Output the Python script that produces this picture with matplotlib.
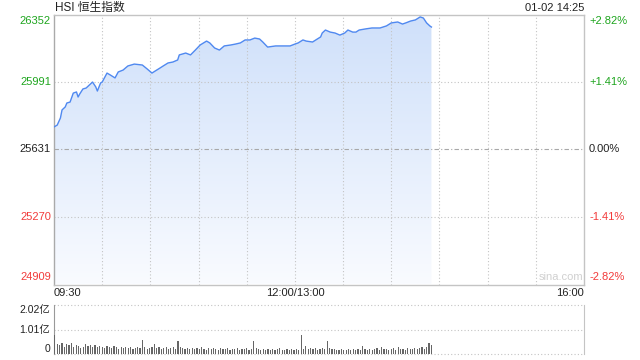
import numpy as np
import matplotlib
matplotlib.use("Agg")
import matplotlib.pyplot as plt
from matplotlib.colors import LinearSegmentedColormap

plt.rcParams['font.family'] = ['Liberation Sans', 'Noto Sans CJK SC', 'DejaVu Sans']

# price trace, minutes from 09:30 with the lunch break removed
minutes = [0, 2, 4, 5, 7, 8, 10, 12, 14, 15, 16, 18, 20, 24, 26, 27, 29, 30, 33, 35,
           38, 40, 43, 46, 50, 55, 58, 61, 63, 66, 68, 71, 74, 77, 78, 82, 85, 88, 91, 95,
           97, 100, 103, 106, 110, 113, 116, 119, 122, 125, 128, 130, 133, 138, 142, 147, 150, 152, 155, 157,
           161, 163, 166, 167, 169, 172, 175, 178, 181, 183, 186, 188, 190, 194, 198, 203, 207, 210, 214, 217,
           219, 222, 225, 228, 230, 232, 234, 235]
prices = [25751, 25761, 25799, 25842, 25858, 25879, 25884, 25932, 25938, 25911,
          25927, 25954, 25959, 25991, 25965, 25943, 25986, 25991, 26039, 26029,
          26013, 26045, 26055, 26077, 26087, 26082, 26061, 26039, 26050, 26066,
          26077, 26093, 26098, 26109, 26136, 26146, 26136, 26162, 26189, 26210,
          26200, 26173, 26162, 26184, 26189, 26194, 26200, 26216, 26216, 26226,
          26221, 26205, 26178, 26184, 26184, 26184, 26194, 26200, 26216, 26210,
          26205, 26216, 26232, 26253, 26269, 26258, 26253, 26242, 26253, 26269,
          26258, 26258, 26269, 26275, 26280, 26280, 26291, 26307, 26312, 26301,
          26307, 26317, 26323, 26339, 26333, 26307, 26291, 26285]

# volume, 亿
volumes = [0.80, 0.42, 0.38, 0.45, 0.30, 0.40, 0.36, 0.44, 0.28, 0.38, 0.34, 0.26, 0.30, 0.42, 0.32, 0.36, 0.30, 0.38, 0.28, 0.34,
           0.30, 0.26, 0.34, 0.28, 0.24, 0.32, 0.30, 0.22, 0.28, 0.26, 0.30, 0.24, 0.28, 0.22, 0.26, 0.30, 0.24, 0.57, 0.28, 0.22,
           0.26, 0.30, 0.40, 0.24, 0.28, 0.22, 0.26, 0.30, 0.20, 0.24, 0.28, 0.22, 0.53, 0.30, 0.26, 0.22, 0.24, 0.20, 0.26, 0.22,
           0.24, 0.20, 0.30, 0.22, 0.18, 0.24, 0.20, 0.26, 0.22, 0.18, 0.24, 0.20, 0.22, 0.26, 0.18, 0.22, 0.20, 0.24, 0.18, 0.22,
           0.20, 0.24, 0.18, 0.22, 0.55, 0.26, 0.20, 0.18, 0.22, 0.16, 0.20, 0.18, 0.22, 0.16, 0.20, 0.24, 0.18, 0.16, 0.22, 0.18,
           0.20, 0.16, 0.22, 0.18, 0.80, 0.20, 0.32, 0.22, 0.26, 0.20, 0.24, 0.18, 0.22, 0.26, 0.20, 0.55, 0.24, 0.20, 0.22, 0.18,
           0.16, 0.20, 0.18, 0.16, 0.22, 0.18, 0.20, 0.16, 0.22, 0.18, 0.35, 0.20, 0.18, 0.22, 0.16, 0.20, 0.24, 0.18, 0.28, 0.20,
           0.22, 0.18, 0.20, 0.24, 0.18, 0.28, 0.20, 0.22, 0.18, 0.24, 0.20, 0.22, 0.26, 0.20, 0.24, 0.28, 0.22, 0.30, 0.45, 0.38]

price_ticks = [24909, 25270, 25631, 25991, 26352]
pct_labels = ['-2.82%', '-1.41%', '0.00%', '+1.41%', '+2.82%']
vol_ticks = [0, 1.01, 2.02]
vol_labels = ['0', '1.01亿', '2.02亿']
time_labels = ['09:30', '12:00/13:00', '16:00']
time_pos = [0, 150, 330]

GREEN = '#1ea51e'
RED = '#f23b3b'
GRID = '#c4c4c4'
EDGE = '#c4c4c4'

fig = plt.figure(figsize=(6.4, 3.6), dpi=100)
ax = fig.add_axes([54 / 640, 1 - 284.5 / 360, 530 / 640, 270 / 360])
ax_vol = fig.add_axes([54 / 640, 1 - 354 / 360, 530 / 640, 49 / 360])

# main price panel
ax.set_xlim(0, 330)
ax.set_ylim(price_ticks[0], price_ticks[-1])
for spine in ax.spines.values():
    spine.set_color(EDGE)
    spine.set_linewidth(1)
ax.spines['left'].set_color('#aaaaaa')
ax.set_xticks([])
ax.set_yticks([])

# gridlines sit on top of the fill
for t in range(30, 330, 30):
    ax.axvline(t, color=GRID, lw=0.8, ls=(0, (1, 2)), zorder=2.5)
for p in [price_ticks[1], price_ticks[3]]:
    ax.axhline(p, color=GRID, lw=0.8, ls=(0, (1, 2)), zorder=2.5)
ax.axhline(price_ticks[2], color='#a8a8a8', lw=0.8, ls=(0, (4, 2, 1, 2)), zorder=2.5)

# gradient fill under the line
cmap = LinearSegmentedColormap.from_list('fill', ['#f9fbff', '#cfe0fa'])
grad = np.linspace(0, 1, 256).reshape(-1, 1)
poly = ax.fill_between(minutes, prices, price_ticks[0], facecolor='none', edgecolor='none')
img = ax.imshow(grad, cmap=cmap, origin='lower', aspect='auto',
                extent=[0, minutes[-1], price_ticks[0], price_ticks[-1]], zorder=2)
img.set_clip_path(poly.get_paths()[0], transform=ax.transData)
ax.plot(minutes, prices, color='#5089f0', lw=1.0, zorder=3)
ax.set_xlim(0, 330)
ax.set_ylim(price_ticks[0], price_ticks[-1])

# left / right labels
colors = [RED, RED, '#222222', GREEN, GREEN]
vas = ['bottom', 'center', 'center', 'center', 'top']
offs = [2, 0, 0, 0, -1]
for p, lab, c, va, o in zip(price_ticks, pct_labels, colors, vas, offs):
    ax.annotate(str(p), xy=(0, p), xycoords=('axes fraction', 'data'),
                xytext=(-3, o), textcoords='offset pixels',
                ha='right', va=va, fontsize=8, color=c)
    ax.annotate(lab, xy=(1, p), xycoords=('axes fraction', 'data'),
                xytext=(5, o), textcoords='offset pixels',
                ha='left', va=va, fontsize=8, color=c)

# time labels
for pos, lab in zip(time_pos, time_labels):
    ha = 'left' if pos == 0 else ('right' if pos == 330 else 'center')
    ax.annotate(lab, xy=(pos, 0), xycoords=('data', 'axes fraction'),
                xytext=(0, -4), textcoords='offset pixels',
                ha=ha, va='top', fontsize=8, color='#222222')

ax.text(0.998, 0.01, 'sina.com', transform=ax.transAxes, ha='right', va='bottom',
        fontsize=8, color='#d0d0d0')

fig.text(55 / 640, 1 - 8 / 360, 'HSI 恒生指数', ha='left', va='center',
         fontsize=8.5, color='#222222')
fig.text(584 / 640, 1 - 8 / 360, '01-02 14:25', ha='right', va='center',
         fontsize=8, color='#222222')

# volume panel
bar_x = np.linspace(0.5, 235, len(volumes))
ax_vol.bar(bar_x, volumes, width=0.75, color='#666666', zorder=3)
ax_vol.set_xlim(0, 330)
ax_vol.set_ylim(0, vol_ticks[-1])
ax_vol.set_xticks([])
ax_vol.set_yticks([])
ax_vol.spines['top'].set_visible(False)
ax_vol.spines['bottom'].set_visible(False)
ax_vol.spines['left'].set_color('#999999')
ax_vol.spines['right'].set_color(EDGE)
for v in vol_ticks:
    ax_vol.axhline(v, color=GRID, lw=0.8, ls=(0, (1, 2)), zorder=1, clip_on=False)
vvas = ['bottom', 'center', 'top']
voffs = [0, -1, 0]
for v, lab, va, o in zip(vol_ticks, vol_labels, vvas, voffs):
    ax_vol.annotate(lab, xy=(0, v), xycoords=('axes fraction', 'data'),
                    xytext=(-4, o), textcoords='offset pixels',
                    ha='right', va=va, fontsize=7.5, color='#222222')

fig.savefig('out.png', dpi=100)
